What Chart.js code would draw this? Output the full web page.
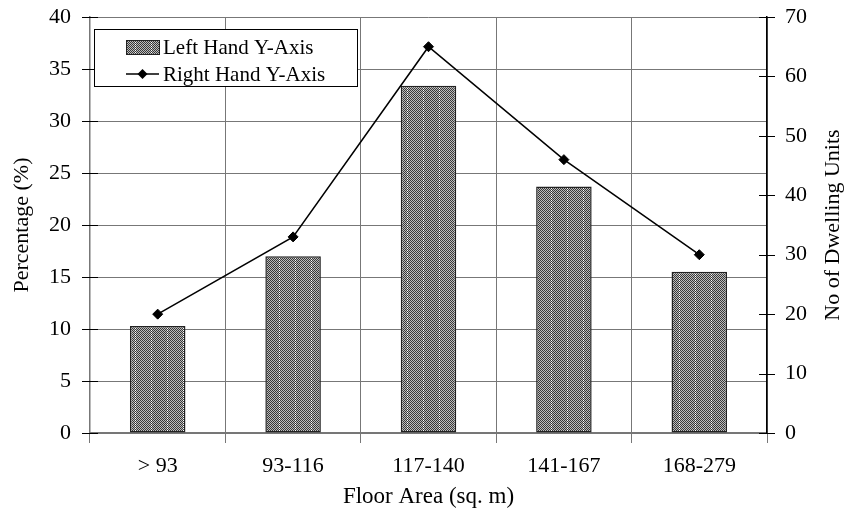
<!DOCTYPE html>
<html>
<head>
<meta charset="utf-8">
<script src="https://cdn.jsdelivr.net/npm/chart.js@4/dist/chart.umd.min.js"></script>
<style>
  html, body { margin: 0; padding: 0; background: #fff; }
  #wrap { width: 850px; height: 512px; }
</style>
</head>
<body>
<div id="wrap"><canvas id="chart" width="850" height="512"></canvas></div>
<script>
// data
const floorAreas = ['> 93', '93-116', '117-140', '141-167', '168-279'];
const percentage = [10.3, 17, 33.4, 23.7, 15.5];
const dwellingUnits = [20, 33, 65, 46, 30];
const leftTicks = [0, 5, 10, 15, 20, 25, 30, 35, 40];
const rightTicks = [0, 10, 20, 30, 40, 50, 60, 70];
const rightTitle = 'No of Dwelling Units';

const FONT = 'Liberation Serif';

// gray checker with white dotted stripes, like the old office hatch
const makePattern = () => {
  const c = document.createElement('canvas');
  c.width = 16; c.height = 2;
  const g = c.getContext('2d');
  for (let x = 0; x < 16; x++) {
    for (let y = 0; y < 2; y++) {
      g.fillStyle = (x + y) % 2 === 0 ? '#383838' : '#bcbcbc';
      if (x === 7 && y === 0) g.fillStyle = '#ffffff';
      g.fillRect(x, y, 1, 1);
    }
  }
  return g.createPattern(c, 'repeat');
};
const hatch = makePattern();

// ticks that cross the y axes + right title read bottom-to-top
const crossTicks = {
  id: 'crossTicks',
  afterDraw(chart) {
    const ctx = chart.ctx;
    ctx.save();
    ctx.strokeStyle = '#000';
    ctx.lineWidth = 1;
    for (const id of ['y', 'y1']) {
      const s = chart.scales[id];
      const x = id === 'y' ? s.right : s.left;
      for (const t of s.ticks) {
        const py = Math.round(s.getPixelForValue(t.value)) + 0.5;
        ctx.beginPath();
        ctx.moveTo(x - 8, py);
        ctx.lineTo(x + 8, py);
        ctx.stroke();
      }
    }
    const r = chart.scales.y1;
    ctx.translate(833, (r.top + r.bottom) / 2);
    ctx.rotate(-Math.PI / 2);
    ctx.font = '22px "' + FONT + '"';
    ctx.fillStyle = '#000';
    ctx.textAlign = 'center';
    ctx.textBaseline = 'middle';
    ctx.fillText(rightTitle, 0, 0);
    ctx.restore();
  }
};

// boxed legend inside the plot
const boxLegend = {
  id: 'boxLegend',
  afterDraw(chart) {
    const ctx = chart.ctx;
    const a = chart.chartArea;
    const x0 = a.left + 4, y0 = a.top + 12, w = 263, h = 57;
    ctx.save();
    ctx.fillStyle = '#fff';
    ctx.fillRect(x0, y0, w, h);
    ctx.strokeStyle = '#000';
    ctx.lineWidth = 1;
    ctx.strokeRect(x0 + 0.5, y0 + 0.5, w, h);
    ctx.font = '21px "' + FONT + '"';
    ctx.textBaseline = 'middle';
    const ds = chart.data.datasets;
    // bar swatch
    let cy = y0 + 18;
    ctx.fillStyle = hatch;
    ctx.fillRect(x0 + 32, cy - 7, 33, 14);
    ctx.strokeStyle = '#222';
    ctx.strokeRect(x0 + 32.5, cy - 6.5, 33, 14);
    ctx.fillStyle = '#000';
    ctx.fillText(ds[0].label, x0 + 69, cy + 1);
    // line swatch
    cy = y0 + 45;
    ctx.strokeStyle = '#000';
    ctx.lineWidth = 1.5;
    ctx.beginPath();
    ctx.moveTo(x0 + 32, cy);
    ctx.lineTo(x0 + 65, cy);
    ctx.stroke();
    ctx.beginPath();
    ctx.moveTo(x0 + 48.5, cy - 5);
    ctx.lineTo(x0 + 53.5, cy);
    ctx.lineTo(x0 + 48.5, cy + 5);
    ctx.lineTo(x0 + 43.5, cy);
    ctx.closePath();
    ctx.fill();
    ctx.fillText(ds[1].label, x0 + 69, cy + 1);
    ctx.restore();
  }
};

const tickFont = { family: FONT, size: 22 };

new Chart(document.getElementById('chart'), {
  data: {
    labels: floorAreas,
    datasets: [
      {
        type: 'bar',
        label: 'Left Hand Y-Axis',
        data: percentage,
        yAxisID: 'y',
        backgroundColor: hatch,
        borderColor: '#222',
        borderWidth: 1.5,
        borderSkipped: false,
        categoryPercentage: 1,
        barPercentage: 0.41,
        order: 2
      },
      {
        type: 'line',
        label: 'Right Hand Y-Axis',
        data: dwellingUnits,
        yAxisID: 'y1',
        borderColor: '#000',
        borderWidth: 1.5,
        backgroundColor: '#000',
        pointStyle: 'rectRot',
        pointRadius: 5,
        pointBorderWidth: 1,
        tension: 0,
        order: 1
      }
    ]
  },
  options: {
    responsive: false,
    animation: false,
    layout: { padding: { top: 17, left: 0, right: 0, bottom: 0 } },
    plugins: { legend: { display: false }, tooltip: { enabled: false } },
    scales: {
      x: {
        offset: true,
        grid: { offset: true, color: '#777', lineWidth: 1, tickLength: 10 },
        border: { color: '#777', width: 1.5 },
        ticks: { color: '#000', font: tickFont, padding: 10 },
        title: { display: true, text: 'Floor Area (sq. m)', color: '#000', font: { family: FONT, size: 23 }, padding: { top: 0, bottom: 1 } },
        afterFit: s => { s.height = 79; s.paddingLeft = 0; s.paddingRight = 0; }
      },
      y: {
        position: 'left',
        min: 0, max: 40,
        afterBuildTicks: s => { s.ticks = leftTicks.map(v => ({ value: v })); },
        grid: { color: '#777', lineWidth: 1, drawTicks: false },
        border: { color: '#777', width: 1.5 },
        ticks: { color: '#000', font: tickFont, padding: 19 },
        title: { display: true, text: 'Percentage (%)', color: '#000', font: tickFont, padding: { top: 9, bottom: 0 } },
        afterFit: s => { s.width = 90; s.paddingTop = 0; s.paddingBottom = 0; }
      },
      y1: {
        position: 'right',
        min: 0, max: 70,
        afterBuildTicks: s => { s.ticks = rightTicks.map(v => ({ value: v })); },
        grid: { drawOnChartArea: false, drawTicks: false },
        border: { color: '#000', width: 1.5 },
        ticks: { color: '#000', font: tickFont, padding: 18 },
        afterFit: s => { s.width = 83; s.paddingTop = 0; s.paddingBottom = 0; }
      }
    }
  },
  plugins: [crossTicks, boxLegend]
});
</script>
</body>
</html>
